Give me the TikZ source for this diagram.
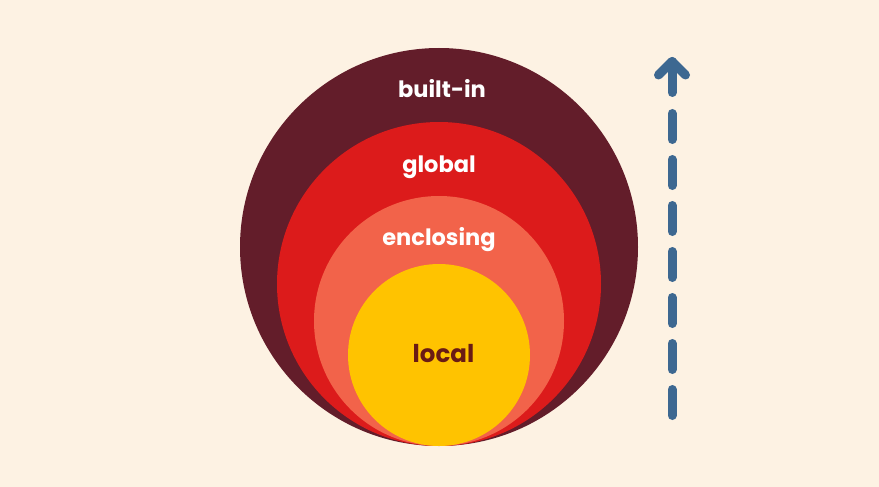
\documentclass[tikz,border=0pt]{standalone}
\usepackage{fontspec}
\setmainfont{Poppins}
\definecolor{paper}{HTML}{FDF2E3}
\definecolor{builtin}{HTML}{631D2A}
\definecolor{globalc}{HTML}{DC1B1B}
\definecolor{enclosingc}{HTML}{F2634A}
\definecolor{localc}{HTML}{FFC300}
\definecolor{localtext}{HTML}{6A1B14}
\definecolor{arrowc}{HTML}{3D6891}
\begin{document}
\begin{tikzpicture}[x=1pt,y=-1pt,
  scope/.style={circle,inner sep=0pt,draw=none},
  label/.style={font=\bfseries\fontsize{22.5}{26}\selectfont,anchor=base,inner sep=0pt},
  climb/.style={draw=arrowc,line width=9pt,line cap=round,line join=round}]
  \fill[paper] (0,0) rectangle (879,487);
  \useasboundingbox (0,0) rectangle (879,487);
  % nested scopes, all touching at the bottom
  \node[scope,fill=builtin,minimum size=398pt] (b) at (439,247) {};
  \node[scope,fill=globalc,minimum size=324pt] (g) at (439,284) {};
  \node[scope,fill=enclosingc,minimum size=250pt] (e) at (439,321) {};
  \node[scope,fill=localc,minimum size=182pt] (l) at (439,355) {};
  % scope names
  \node[label,text=white] (tb) at (442,98) {built-in};
  \node[label,text=white] (tg) at (439,172) {global};
  \node[label,text=white] (te) at (439,245) {enclosing};
  \node[label,text=localtext,font=\bfseries\fontsize{24.5}{28}\selectfont] (tl) at (443.5,362) {local};
  % upward lookup arrow
  \coordinate (a0) at (672,415.5);
  \coordinate (a1) at (672,100);
  \coordinate (s0) at (672,92.5);
  \coordinate (tip) at (672,61.5);
  \coordinate (wl) at (658.5,75);
  \coordinate (wr) at (685.5,75);
  \draw[climb,dash pattern=on 26pt off 20pt] (a0) -- (a1);
  \draw[climb] (s0) -- (tip);
  \draw[climb] (wl) -- (tip) -- (wr);
\end{tikzpicture}
\end{document}
